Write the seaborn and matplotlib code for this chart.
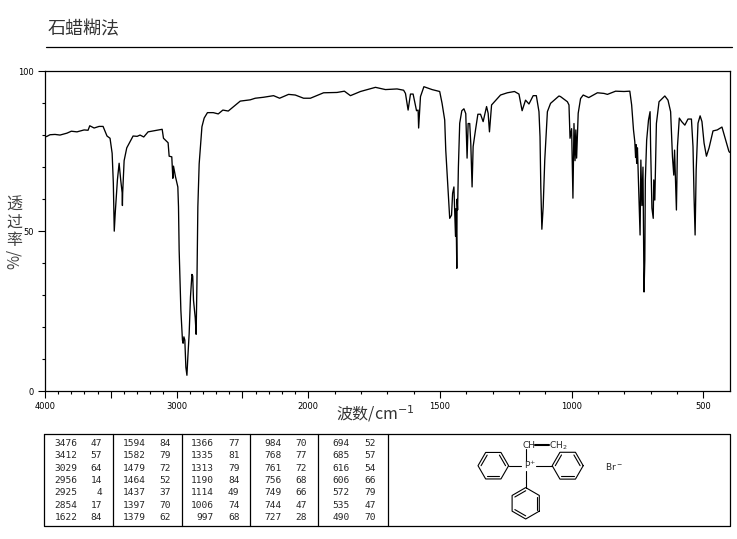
import numpy as np
import matplotlib
matplotlib.use("Agg")
import matplotlib.pyplot as plt
import seaborn as sns

# spectrum, split in three stretches
high_wn = [4000, 3985, 3962, 3924, 3886, 3833, 3800, 3757, 3703, 3673, 3660, 3627, 3589, 3559, 3529,
           3506, 3490, 3481, 3476, 3474, 3466, 3450, 3437, 3425, 3414, 3412, 3410, 3399, 3379, 3331,
           3300, 3278, 3250, 3217, 3110, 3100, 3065, 3057, 3037, 3029, 3024, 3009, 2991, 2986, 2981,
           2968, 2956, 2951, 2945, 2938, 2930, 2922, 2915, 2905, 2895, 2884, 2878, 2872, 2859, 2852,
           2846, 2839, 2829, 2816, 2808, 2791, 2766, 2722, 2684, 2649, 2608, 2570, 2517, 2441, 2403,
           2340, 2264, 2218, 2150, 2099, 2036]
high_t = [79.4, 79.6, 80.1, 80.2, 80.0, 80.6, 81.2, 81.0, 81.6, 81.5, 82.9, 82.2, 82.7, 82.7, 79.7,
          79.0, 74.3, 65.0, 53.5, 50.0, 56.0, 66.0, 71.2, 66.0, 62.0, 58.0, 62.0, 72.0, 76.0, 79.7,
          79.6, 80.0, 79.4, 81.0, 81.8, 79.0, 77.6, 73.4, 73.2, 66.5, 70.3, 67.0, 63.8, 57.6, 44.0,
          25.3, 16.0, 15.0, 17.0, 16.0, 7.5, 5.0, 10.7, 18.0, 29.5, 36.5, 36.0, 28.4, 23.0, 17.8,
          33.7, 57.6, 71.0, 78.4, 82.6, 85.3, 87.0, 87.0, 86.6, 87.8, 87.5, 88.8, 90.6, 91.0, 91.5,
          91.8, 92.3, 91.5, 92.7, 92.5, 91.5]

mid_wn = [1992, 1942, 1891, 1863, 1840, 1802, 1745, 1707, 1663, 1638, 1631, 1621, 1612, 1602, 1589,
          1583, 1581, 1574, 1561, 1530, 1501, 1492, 1482, 1478, 1470, 1463, 1456, 1452, 1447, 1444,
          1441, 1439, 1437, 1436, 1435, 1433, 1430, 1425, 1417, 1409, 1402, 1397, 1393, 1387, 1383,
          1378, 1374, 1365, 1356, 1346, 1336, 1323, 1317, 1312, 1304, 1270, 1244, 1217, 1200, 1188,
          1175, 1162, 1146, 1134, 1124, 1120, 1117, 1113, 1108, 1102, 1092, 1080, 1048]
mid_t = [91.5, 93.2, 93.3, 93.7, 92.3, 93.6, 94.9, 94.2, 94.4, 94.0, 93.0, 87.8, 92.8, 92.8, 87.6,
         87.8, 82.2, 92.0, 95.1, 94.2, 93.6, 89.9, 84.7, 75.3, 63.8, 54.0, 55.0, 61.8, 63.8, 56.0,
         48.4, 57.0, 44.0, 38.4, 60.0, 56.6, 70.0, 83.7, 87.6, 88.2, 86.7, 72.8, 83.6, 83.6, 77.5,
         63.8, 76.4, 81.6, 86.5, 86.5, 84.2, 88.9, 86.8, 81.0, 89.4, 92.5, 93.2, 93.6, 92.8, 87.6,
         90.9, 89.7, 92.3, 92.3, 87.3, 79.5, 63.8, 50.6, 57.6, 72.2, 87.3, 89.9, 92.2]

low_wn = [1042, 1016, 1010, 1006, 1000, 995, 991, 987, 984, 981, 975, 966, 956, 935, 902,
          877, 864, 833, 801, 779, 772, 765, 760, 757, 755, 753, 750, 747, 743, 740,
          737, 733, 729, 725, 722, 720, 715, 708, 702, 700, 695, 690, 688, 684, 682,
          678, 668, 646, 634, 624, 617, 612, 609, 602, 598, 591, 582, 570, 558, 545,
          539, 535, 531, 527, 520, 512, 505, 497, 488, 478, 463, 447, 429, 415, 403, 400]
low_t = [92.0, 90.4, 89.4, 79.0, 82.0, 60.3, 83.6, 72.0, 81.6, 72.8, 86.8, 91.4, 92.5, 91.7, 93.2,
         93.0, 92.7, 93.7, 93.6, 93.7, 89.4, 81.6, 77.9, 73.0, 77.0, 71.2, 76.0, 67.5, 56.0, 48.8,
         72.2, 58.0, 70.0, 31.0, 41.0, 66.0, 78.4, 84.7, 87.3, 76.4, 57.2, 54.0, 66.0, 59.7, 67.5,
         83.6, 90.4, 92.2, 90.9, 87.3, 73.2, 67.5, 75.3, 56.6, 76.4, 85.3, 84.2, 83.1, 85.0, 85.0,
         76.4, 60.7, 48.8, 69.0, 83.7, 86.0, 84.2, 77.5, 73.4, 76.0, 81.3, 81.6, 82.5, 78.4, 75.0, 74.6]

# peak table, one list per column block
peak_wn = [[3476, 3412, 3029, 2956, 2925, 2854, 1622],
           [1594, 1582, 1479, 1464, 1437, 1397, 1379],
           [1366, 1335, 1313, 1190, 1114, 1006, 997],
           [984, 768, 761, 756, 749, 744, 727],
           [694, 685, 616, 606, 572, 535, 490]]
peak_t = [[47, 57, 64, 14, 4, 17, 84],
          [84, 79, 72, 52, 37, 70, 62],
          [77, 81, 79, 84, 49, 74, 68],
          [70, 77, 72, 68, 66, 47, 28],
          [52, 57, 54, 66, 79, 47, 70]]

x_major = [4000, 3500, 3000, 2500, 2000, 1500, 1000, 500]
x_labels = ["4000", "", "3000", "", "2000", "1500", "1000", "500"]
y_major = [0, 50, 100]

W, H = 737, 539

sns.set_style("white", {"axes.edgecolor": "black", "xtick.color": "black", "ytick.color": "black",
                        "xtick.bottom": True, "ytick.left": True})
plt.rcParams['font.family'] = ['Noto Sans CJK SC', 'DejaVu Sans']


# wavenumber axis is compressed 2:1 above 2000 cm-1
def forward(x):
    x = np.asarray(x, dtype=float)
    return np.where(x > 2000, 2000 + (x - 2000) / 2, x)


def inverse(x):
    x = np.asarray(x, dtype=float)
    return np.where(x > 2000, 2000 + (x - 2000) * 2, x)


fig = plt.figure(figsize=(W / 100, H / 100), dpi=100)
ax = fig.add_axes([45 / W, 1 - 391.3 / H, (729.6 - 45) / W, 320.3 / H])

wn = np.array(high_wn + mid_wn + low_wn)
t = np.array(high_t + mid_t + low_t)
sns.lineplot(x=wn, y=t, ax=ax, color="black", lw=0.95, sort=False, estimator=None)

ax.set_xscale("function", functions=(forward, inverse))
ax.set_xlim(4000, 400)
ax.set_ylim(0, 100)
ax.set_xticks(x_major, x_labels, fontsize=6, family="DejaVu Sans")
ax.set_xticks(np.arange(500, 4000, 100), minor=True)
ax.set_yticks(y_major, [str(v) for v in y_major], fontsize=6, family="DejaVu Sans")
ax.set_yticks(np.arange(0, 101, 10), minor=True)
ax.tick_params(which="major", length=5, width=0.8, pad=3)
ax.tick_params(which="minor", length=2.5, width=0.8, bottom=True, left=True)
ax.set_xlabel("")
ax.set_ylabel("")
for s in ax.spines.values():
    s.set_linewidth(0.9)

# everything below is placed in picture pixels
over = fig.add_axes([0, 0, 1, 1], facecolor="none")
over.set_xlim(0, W)
over.set_ylim(H, 0)
over.axis("off")

over.text(48, 29, "石蜡糊法", fontsize=13, color="#333333", va="center", ha="left")
over.plot([46, 732], [47, 47], color="black", lw=0.9)

for ch, yy in zip("透过率", [205, 222, 240]):
    over.text(14, yy, ch, fontsize=11.5, color="#444444", ha="center", va="center")
over.text(14, 259, "%/", fontsize=11, color="#444444", ha="center", va="center", rotation=90)
over.text(375, 414, "波数/cm$^{-1}$", fontsize=11.5, color="#333333", ha="center", va="center")

# peak table
over.plot([44, 730, 730, 44, 44], [434, 434, 526, 526, 434], color="black", lw=0.9)
for xx in [113, 182, 250, 318, 388]:
    over.plot([xx, xx], [434, 526], color="black", lw=0.9)
rows = [443.3, 456, 468.3, 480.3, 492.7, 505.3, 518]
for c, (xa, xb) in enumerate([(77.5, 102), (146, 170.5), (214, 239.5), (282, 306.7), (350, 376)]):
    for r, yy in enumerate(rows):
        over.text(xa, yy, str(peak_wn[c][r]), fontsize=6.8, family="DejaVu Sans Mono", ha="right", va="center")
        over.text(xb, yy, str(peak_t[c][r]), fontsize=6.8, family="DejaVu Sans Mono", ha="right", va="center")


# structure drawing
def ring(cx, cy, r, start, inner_sides):
    ang = np.radians(start + 60 * np.arange(7))
    xs, ys = cx + r * np.cos(ang), cy + r * np.sin(ang)
    over.plot(xs, ys, color="black", lw=0.8)
    for i in inner_sides:
        px = cx + 0.8 * (xs[[i, i + 1]] - cx)
        py = cy + 0.8 * (ys[[i, i + 1]] - cy)
        over.plot(px, py, color="black", lw=0.8)


ring(493.3, 465.7, 15.3, 0, [1, 3, 5])
ring(567.7, 465.7, 15.5, 0, [1, 3, 5])
ring(525.7, 503.3, 15.7, 30, [1, 3, 5])
over.plot([509, 521.5], [465.7, 465.7], color="black", lw=0.8)
over.plot([536.5, 552], [466.3, 466.3], color="black", lw=0.8)
over.plot([525.7, 525.7], [448.5, 461], color="black", lw=0.8)
over.plot([525.7, 525.7], [471, 487.6], color="black", lw=0.8)
over.plot([535, 549.5], [445, 445], color="black", lw=1.5)
over.text(527, 466, "P", fontsize=6.5, family="DejaVu Sans", ha="center", va="center")
over.text(531.5, 463, "+", fontsize=4.5, family="DejaVu Sans", ha="center", va="center")
over.text(529.5, 445, "CH", fontsize=6.5, family="DejaVu Sans", ha="center", va="center")
over.text(558, 445.5, "CH$_2$", fontsize=6.5, family="DejaVu Sans", ha="center", va="center")
over.text(614, 466.5, "Br$^-$", fontsize=6.5, family="DejaVu Sans", ha="center", va="center")

fig.savefig("out.png", dpi=100)
